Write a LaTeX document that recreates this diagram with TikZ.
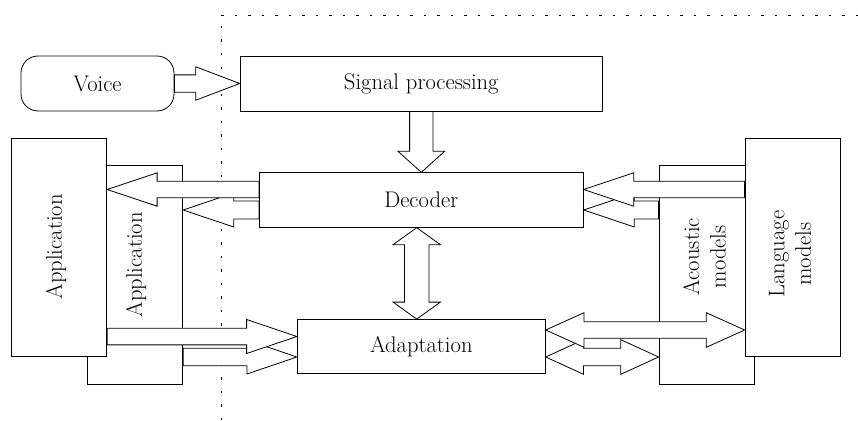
\documentclass[tikz,border=0pt]{standalone}
\usepackage{fontspec}
\setmainfont{Latin Modern Roman}
\usetikzlibrary{calc}
\begin{document}
\begin{tikzpicture}[x=1pt,y=-1pt,
  font=\fontsize{22.6}{26.5}\selectfont,
  line width=0.8pt,
  box/.style={draw, fill=white, inner sep=0pt},
  vlabel/.style={rotate=90, align=center, inner sep=0pt},
  arshaft/.store in=\arshaft, arhead/.store in=\arhead, arlen/.store in=\arlen,
  arshaft=8.5pt, arhead=17pt, arlen=50pt,
  % single block arrow: tail at the start point, tip at the target
  blockarrow/.style={draw, fill=white, line join=miter, to path={
    ($(\tikztostart)!\arshaft!90:(\tikztotarget)$)
    -- ($($(\tikztotarget)!\arlen!(\tikztostart)$)!\arshaft!-90:(\tikztostart)$)
    -- ($($(\tikztotarget)!\arlen!(\tikztostart)$)!\arhead!-90:(\tikztostart)$)
    -- (\tikztotarget)
    -- ($($(\tikztotarget)!\arlen!(\tikztostart)$)!\arhead!90:(\tikztostart)$)
    -- ($($(\tikztotarget)!\arlen!(\tikztostart)$)!\arshaft!90:(\tikztostart)$)
    -- ($(\tikztostart)!\arshaft!-90:(\tikztotarget)$)
    -- cycle}},
  % double-headed block arrow
  dblarrow/.style={draw, fill=white, line join=miter, to path={
    (\tikztostart)
    -- ($($(\tikztostart)!\arlen!(\tikztotarget)$)!\arhead!90:(\tikztotarget)$)
    -- ($($(\tikztostart)!\arlen!(\tikztotarget)$)!\arshaft!90:(\tikztotarget)$)
    -- ($($(\tikztotarget)!\arlen!(\tikztostart)$)!\arshaft!-90:(\tikztostart)$)
    -- ($($(\tikztotarget)!\arlen!(\tikztostart)$)!\arhead!-90:(\tikztostart)$)
    -- (\tikztotarget)
    -- ($($(\tikztotarget)!\arlen!(\tikztostart)$)!\arhead!90:(\tikztostart)$)
    -- ($($(\tikztotarget)!\arlen!(\tikztostart)$)!\arshaft!90:(\tikztostart)$)
    -- ($($(\tikztostart)!\arlen!(\tikztotarget)$)!\arshaft!-90:(\tikztotarget)$)
    -- ($($(\tikztostart)!\arlen!(\tikztotarget)$)!\arhead!-90:(\tikztotarget)$)
    -- cycle}},
  boundary/.style={dash pattern=on 2.5pt off 11pt, line width=0.9pt}
]
\useasboundingbox (0,0) rectangle (858,420);

% system boundary
\coordinate (bnd1) at (221,420);
\coordinate (bnd2) at (221,15);
\coordinate (bnd3) at (858,15);
\draw[boundary] (bnd1) -- (bnd2) -- (bnd3);

% blocks
\node[box, rounded corners=17pt, minimum width=153pt, minimum height=55pt] (voice) at (97.5,83.5) {Voice};
\node[box, minimum width=362.3pt, minimum height=55pt] (sig) at (421.3,83.5) {Signal processing};
\node[box, minimum width=324pt, minimum height=54.6pt] (dec) at (421.3,200) {Decoder};
\node[box, minimum width=248pt, minimum height=54pt] (adapt) at (421.3,346.5) {Adaptation};

\node[box, minimum width=95pt, minimum height=218.6pt] (appin) at (135.2,275) {};
\node[box, minimum width=95pt, minimum height=218.4pt] (appout) at (59.2,247.5) {};
\node[box, minimum width=95.3pt, minimum height=218.6pt] (acou) at (706.65,275) {};
\node[box, minimum width=95.5pt, minimum height=218.4pt] (lang) at (792.75,247.5) {};

\node[vlabel] (appoutT) at (56,247) {Application};
\node[vlabel] (appinT) at (136,265) {Application};
\node[vlabel] (acouT) at (704.5,256.7) {Acoustic\\models};
\node[vlabel] (langT) at (790,254) {Language\\models};

% arrow end points
\coordinate (d3a) at ($(dec.south)+(-4.6,0)$);
\coordinate (d3b) at ($(adapt.north)+(-4.6,0)$);
\coordinate (d4t) at ($(dec.west)+(0,-10.5)$);
\coordinate (d4h) at (appout.east |- d4t);
\coordinate (d5t) at ($(dec.west)+(0,10)$);
\coordinate (d5h) at (appin.east |- d5t);
\coordinate (d6h) at ($(dec.east)+(0,-10.5)$);
\coordinate (d6t) at (lang.west |- d6h);
\coordinate (d7h) at ($(dec.east)+(0,10)$);
\coordinate (d7t) at (acou.west |- d7h);
\coordinate (d8h) at ($(adapt.west)+(0,-10)$);
\coordinate (d8t) at (appout.east |- d8h);
\coordinate (d9h) at ($(adapt.west)+(0,10.5)$);
\coordinate (d9t) at (appin.east |- d9h);
\coordinate (d10a) at ($(adapt.east)+(0,-16.5)$);
\coordinate (d10b) at (lang.west |- d10a);
\coordinate (d11a) at ($(adapt.east)+(0,10.5)$);
\coordinate (d11b) at (acou.west |- d11a);

% arrows (lower ones first, upper ones drawn over them)
\draw[blockarrow, arshaft=8.65pt, arhead=16.7pt, arlen=44pt] (voice.east) to (sig.west);
\draw[blockarrow, arshaft=11.7pt, arhead=23.3pt, arlen=21pt] (sig.south) to (dec.north);
\draw[dblarrow, arshaft=12.3pt, arhead=23.7pt, arlen=17pt] (d3a) to (d3b);

\draw[blockarrow, arshaft=9pt, arhead=17pt, arlen=50.6pt] (d5t) to (d5h);
\draw[blockarrow, arshaft=8.3pt, arhead=16.7pt, arlen=50pt] (d4t) to (d4h);
\draw[blockarrow, arshaft=9pt, arhead=17pt, arlen=50.6pt] (d7t) to (d7h);
\draw[blockarrow, arshaft=8.3pt, arhead=16.7pt, arlen=50pt] (d6t) to (d6h);

\draw[blockarrow, arshaft=8.7pt, arhead=17pt, arlen=50pt] (d9t) to (d9h);
\draw[blockarrow, arshaft=8.35pt, arhead=17pt, arlen=50.3pt] (d8t) to (d8h);
\draw[dblarrow, arshaft=8.7pt, arhead=17.3pt, arlen=37.8pt] (d11a) to (d11b);
\draw[dblarrow, arshaft=8.3pt, arhead=17.3pt, arlen=38.3pt] (d10a) to (d10b);
\end{tikzpicture}
\end{document}
